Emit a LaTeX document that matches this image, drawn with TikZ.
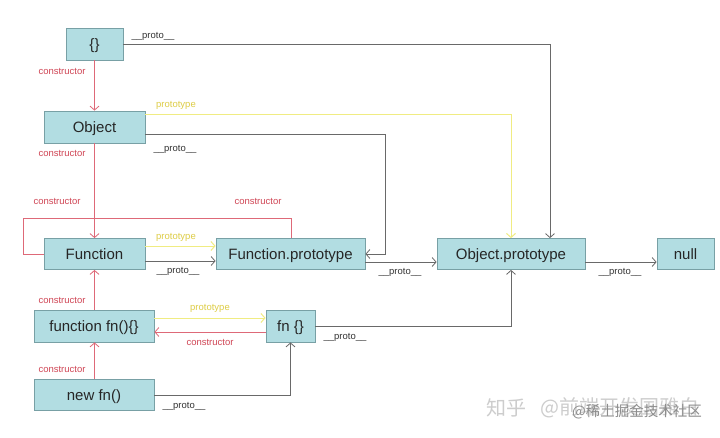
\documentclass[tikz,border=0pt]{standalone}
\usepackage{fontspec}
\setmainfont{Liberation Sans}
\newfontfamily\cjk{Noto Sans CJK SC}
\usetikzlibrary{arrows.meta}
\definecolor{boxfill}{RGB}{178,221,226}
\definecolor{boxdraw}{RGB}{120,160,165}
\definecolor{redl}{RGB}{222,105,120}
\definecolor{redt}{RGB}{208,70,85}
\definecolor{yell}{RGB}{240,236,130}
\definecolor{yelt}{RGB}{222,205,70}
\definecolor{grayl}{RGB}{105,105,105}
\definecolor{wm}{RGB}{205,205,205}
\tikzset{
  box/.style={draw=boxdraw, fill=boxfill, line width=0.8pt, inner sep=0pt, text height=11pt, text depth=0pt, font=\fontsize{15}{18}\selectfont, text=black!85},
  arr/.style={-{Straight Barb[length=4pt,width=9pt]}, line width=0.8pt},
  redc/.style={arr, draw=redl},
  yelc/.style={arr, draw=yell, line width=1pt},
  grac/.style={arr, draw=grayl},
  lbl/.style={font=\fontsize{9.5}{11}\selectfont, inner sep=0pt},
  lred/.style={lbl, text=redt},
  lyel/.style={lbl, text=yelt},
  lgra/.style={lbl, text=black!80},
}
\begin{document}
\begin{tikzpicture}[x=1pt,y=-1pt]
\useasboundingbox (0,0) rectangle (720,437);
\fill[white] (0,0) rectangle (720,437);
% nodes
\node[box, minimum width=57pt, minimum height=32pt] (e) at (94.5,44) {\{\}};
\node[box, minimum width=101pt, minimum height=32pt] (ob) at (94.5,127) {Object};
\node[box, minimum width=101pt, minimum height=31pt] (F) at (94.5,254) {Function};
\node[box, minimum width=149pt, minimum height=31pt] (fp) at (290.5,254) {Function.prototype};
\node[box, minimum width=148pt, minimum height=31pt] (op) at (511,254) {Object.prototype};
\node[box, minimum width=57pt, minimum height=31pt] (nl) at (685.5,254) {null};
\node[box, minimum width=120pt, minimum height=32pt] (ff) at (94,326) {function fn()\{\}};
\node[box, minimum width=49pt, minimum height=32pt] (fo) at (290.5,326) {fn \{\}};
\node[box, minimum width=120pt, minimum height=31pt] (nf) at (94,394.5) {new fn()};
% connectors
\draw[grac] (e.east) -| ([xshift=39pt]op.north);
\draw[redc] (e.south) -- (ob.north);
\draw[yelc] (ob.east |- 0,114) -| (op.north);
\draw[grac] (ob.east |- 0,134) -| (385,254) -- (fp.east);
\draw[redc] (ob.south) -- (F.north);
\draw[draw=redl, line width=0.8pt] (fp.north -| 291,0) |- (23,218) |- (F.west);
\draw[yelc] (F.east |- 0,246) -- (fp.west |- 0,246);
\draw[grac] (F.east |- 0,261) -- (fp.west |- 0,261);
\draw[grac] (fp.east |- 0,262) -- (op.west |- 0,262);
\draw[grac] (op.east |- 0,262) -- (nl.west |- 0,262);
\draw[redc] (ff.north -| F.south) -- (F.south);
\draw[yelc] (ff.east |- 0,318) -- (fo.west |- 0,318);
\draw[redc] (fo.west |- 0,332) -- (ff.east |- 0,332);
\draw[grac] (fo.east |- 0,326) -| (op.south);
\draw[redc] (nf.north -| F.south) -- (ff.south -| F.south);
\draw[grac] (nf.east |- 0,395) -| (fo.south);
% labels
\node[lgra] (l1) at (153,36) {\_\_proto\_\_};
\node[lred] (l2) at (62,71) {constructor};
\node[lyel] (l3) at (176,105) {prototype};
\node[lgra] (l4) at (175,149) {\_\_proto\_\_};
\node[lred] (l5) at (62,153) {constructor};
\node[lred] (l6) at (57,201) {constructor};
\node[lred] (l7) at (258,201) {constructor};
\node[lyel] (l8) at (176,237) {prototype};
\node[lgra] (l9) at (178,271) {\_\_proto\_\_};
\node[lgra] (l10) at (400,272) {\_\_proto\_\_};
\node[lgra] (l11) at (620,272) {\_\_proto\_\_};
\node[lred] (l12) at (62,300) {constructor};
\node[lyel] (l13) at (210,308) {prototype};
\node[lred] (l14) at (210,342) {constructor};
\node[lgra] (l15) at (345,337) {\_\_proto\_\_};
\node[lred] (l16) at (62,369) {constructor};
\node[lgra] (l17) at (184,406) {\_\_proto\_\_};
% watermark
\node[anchor=west, inner sep=0pt, text=wm, font=\cjk\fontsize{20}{22}\selectfont] (w0) at (486,408) {知乎};
\node[anchor=west, inner sep=0pt, text=wm, font=\cjk\fontsize{20}{22}\selectfont] (w1) at (540,408) {@前端开发国雅白};
\node[anchor=west, inner sep=0pt, text=black!45, font=\cjk\fontsize{14.5}{16}\selectfont] (w2) at (572,412) {@稀土掘金技术社区};
\end{tikzpicture}
\end{document}
